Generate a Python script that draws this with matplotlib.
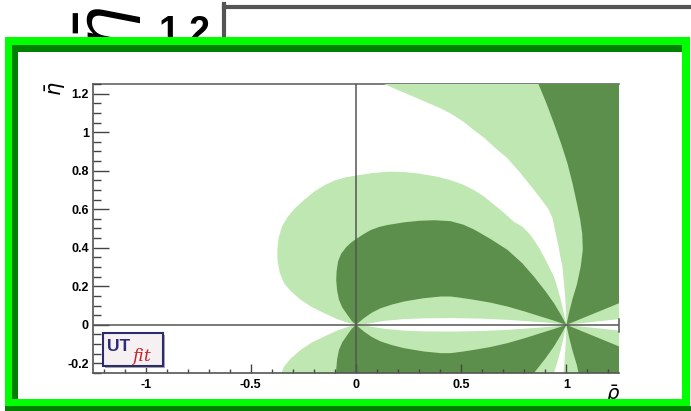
import matplotlib.pyplot as plt
from matplotlib.patches import Rectangle
from matplotlib.ticker import MultipleLocator

plt.rcParams['font.family'] = ['Liberation Sans', 'DejaVu Sans']

LIGHT = "#bfe7b1"
DARK = "#5c8f4b"

# regions (upper half, rho / eta), mirrored below the axis
# light band on the right: left edge from top border down to (1,0)
band_rho = [0.133, 0.2, 0.276, 0.34, 0.403, 0.45, 0.51, 0.561, 0.61, 0.66, 0.72, 0.78,
            0.846, 0.885, 0.915, 0.935, 0.949, 0.962, 0.972, 0.981, 0.99, 0.995, 0.998, 1.0,
            1.25, 1.25]
band_eta = [1.25, 1.218, 1.183, 1.153, 1.123, 1.097, 1.055, 1.01, 0.97, 0.92, 0.864, 0.79,
            0.70, 0.645, 0.60, 0.55, 0.475, 0.41, 0.35, 0.302, 0.2, 0.13, 0.06, 0.0,
            0.03, 1.25]

# dark region on the right
right_rho = [0.867, 0.905, 0.941, 0.975, 1.005, 1.03, 1.05, 1.065, 1.075, 1.078, 1.068,
             1.05, 1.028, 1.012, 1.0, 1.25, 1.25]
right_eta = [1.25, 1.15, 1.045, 0.94, 0.838, 0.73, 0.63, 0.55, 0.475, 0.39, 0.302,
             0.21, 0.13, 0.06, 0.0, 0.112, 1.25]

# big light lobe between (0,0) and (1,0)
lobe_rho = [0.0, -0.033, -0.09, -0.152, -0.21, -0.263, -0.31, -0.342, -0.362, -0.373,
            -0.374, -0.368, -0.352, -0.325, -0.29, -0.245, -0.2, -0.15, -0.1, -0.05,
            0.0, 0.08, 0.157, 0.23, 0.30, 0.38, 0.45, 0.51, 0.561, 0.61, 0.66, 0.71,
            0.75, 0.79, 0.822, 0.846, 0.87, 0.895, 0.917, 0.941, 0.958, 0.973, 0.987, 1.0,
            0.95, 0.9, 0.8, 0.72, 0.6, 0.45, 0.33, 0.228, 0.13, 0.05]
lobe_eta = [0.0, 0.009, 0.03, 0.061, 0.092, 0.13, 0.175, 0.216, 0.27, 0.33,
            0.39, 0.45, 0.51, 0.56, 0.605, 0.65, 0.69, 0.725, 0.75, 0.765,
            0.775, 0.788, 0.795, 0.793, 0.785, 0.77, 0.751, 0.727, 0.699, 0.665, 0.62, 0.575,
            0.535, 0.51, 0.475, 0.44, 0.40, 0.35, 0.302, 0.25, 0.19, 0.13, 0.065, 0.0,
            0.007, 0.012, 0.02, 0.026, 0.032, 0.035, 0.034, 0.03, 0.02, 0.005]

# dark lobe inside it
core_rho = [0.0, -0.02, -0.041, -0.065, -0.081, -0.09, -0.094, -0.092, -0.085, -0.07,
            -0.045, -0.02, 0.0, 0.035, 0.07, 0.11, 0.149, 0.228, 0.30, 0.37, 0.45, 0.51,
            0.561, 0.64, 0.72, 0.79, 0.846, 0.9, 0.941, 0.975, 1.0,
            0.94, 0.878, 0.8, 0.72, 0.64, 0.561, 0.5, 0.45, 0.403, 0.32, 0.228, 0.17,
            0.117, 0.075, 0.038, 0.015]
core_eta = [0.0, 0.02, 0.052, 0.09, 0.13, 0.18, 0.233, 0.28, 0.33, 0.37,
            0.405, 0.43, 0.445, 0.47, 0.492, 0.508, 0.518, 0.532, 0.54, 0.543, 0.538, 0.52,
            0.495, 0.445, 0.389, 0.32, 0.25, 0.175, 0.112, 0.05, 0.0,
            0.022, 0.043, 0.07, 0.095, 0.115, 0.13, 0.14, 0.147, 0.147, 0.138, 0.121, 0.105,
            0.086, 0.063, 0.035, 0.014]

xticks = [-1, -0.5, 0, 0.5, 1]
xticklabels = ["-1", "-0.5", "0", "0.5", "1"]
yticks = [-0.2, 0, 0.2, 0.4, 0.6, 0.8, 1.0, 1.2]
yticklabels = ["-0.2", "0", "0.2", "0.4", "0.6", "0.8", "1", "1.2"]

fig = plt.figure(figsize=(6.91, 4.11), dpi=100)

# background: bits of the larger copy of the plot, and the frame interior
bg = fig.add_axes([0, 0, 1, 1], zorder=0)
bg.set_xlim(0, 691)
bg.set_ylim(411, 0)
bg.axis('off')
bg.text(108, 28, r"$\bar{\eta}$", fontsize=50, rotation=90, ha='center', va='center')
bg.text(185, 33, "1.2", fontsize=27, fontweight='bold', ha='center', va='center')
bg.plot([224.5, 224.5], [4, 40], color='#555555', lw=3)
bg.plot([224.5, 691], [7.5, 7.5], color='#555555', lw=3)
bg.add_patch(Rectangle((5, 37), 686, 374, facecolor='white', edgecolor='none', zorder=3))
bg.text(56, 89, r"$\bar{\eta}$", fontsize=15, rotation=90, ha='center', va='center', zorder=4)
bg.text(613, 383, r"$\bar{\rho}$", fontsize=14, ha='center', va='top', zorder=4)

# main plot
ax = fig.add_axes([93 / 691, 1 - 373 / 411, 526 / 691, 289 / 411], zorder=1)
ax.set_xlim(-1.25, 1.25)
ax.set_ylim(-0.25, 1.25)

for rr, ee, col in [(band_rho, band_eta, LIGHT), (right_rho, right_eta, DARK),
                    (lobe_rho, lobe_eta, LIGHT), (core_rho, core_eta, DARK)]:
    ax.fill(rr, ee, color=col, lw=0)
    ax.fill(rr, [-e for e in ee], color=col, lw=0)

ax.plot([-1.25, 1.25], [1.25, 1.25], color='#666666', lw=1.2, zorder=0.5, clip_on=False)
ax.axhline(0, color='#555555', lw=1.1, zorder=3)
ax.axvline(0, color='#555555', lw=1.1, zorder=3)
ax.plot([1.25, 1.25], [-0.035, 0.03], color='#555555', lw=1.1, zorder=3, clip_on=False)

ax.spines['top'].set_visible(False)
ax.spines['right'].set_visible(False)
for s in ['left', 'bottom']:
    ax.spines[s].set_color('#555555')
    ax.spines[s].set_linewidth(1.2)
    ax.spines[s].set_zorder(4)

ax.set_xticks(xticks)
ax.set_xticklabels(xticklabels, fontweight='bold')
ax.set_yticks(yticks)
ax.set_yticklabels(yticklabels, fontweight='bold')
ax.xaxis.set_minor_locator(MultipleLocator(0.1))
ax.yaxis.set_minor_locator(MultipleLocator(0.05))
ax.tick_params(axis='both', which='both', direction='in', color='#444444', width=1,
               labelsize=9, top=False, right=False)
ax.tick_params(axis='y', which='major', length=11.5, pad=3)
ax.tick_params(axis='y', which='minor', length=5.8)
ax.tick_params(axis='x', which='major', length=6.5, pad=4)
ax.tick_params(axis='x', which='minor', length=3.2)
ax.set_axisbelow(False)

# UTfit logo
ax.add_patch(Rectangle((0.023, 0.018), 0.114, 0.114, transform=ax.transAxes,
                       facecolor='#aaaaaa', edgecolor='none', zorder=5))
ax.add_patch(Rectangle((0.019, 0.024), 0.114, 0.114, transform=ax.transAxes,
                       facecolor='#f6f0f3', edgecolor='#2b2d6b', lw=1.5, zorder=6))
ax.text(0.026, 0.09, "UT", transform=ax.transAxes, color='#2b2d7a', fontsize=12.5,
        fontweight='bold', ha='left', va='center', zorder=7)
ax.text(0.074, 0.058, "fit", transform=ax.transAxes, color='#c0282d', fontsize=12.5,
        style='italic', family='DejaVu Serif', ha='left', va='center', zorder=7)

# green frame on top
fg = fig.add_axes([0, 0, 1, 1], zorder=2)
fg.set_xlim(0, 691)
fg.set_ylim(411, 0)
fg.axis('off')
fg.patch.set_visible(False)
for x, y, w, h, c in [(12, 45, 670, 7, '#008000'), (12, 45, 6, 354, '#008000'),
                      (5, 406, 686, 5, '#008000'),
                      (5, 37, 685, 8, '#00ff00'), (5, 37, 7, 369, '#00ff00'),
                      (5, 399, 685, 7, '#00ff00'), (682, 37, 8, 369, '#00ff00')]:
    fg.add_patch(Rectangle((x, y), w, h, facecolor=c, edgecolor='none'))

fig.savefig("out.png", dpi=100)
